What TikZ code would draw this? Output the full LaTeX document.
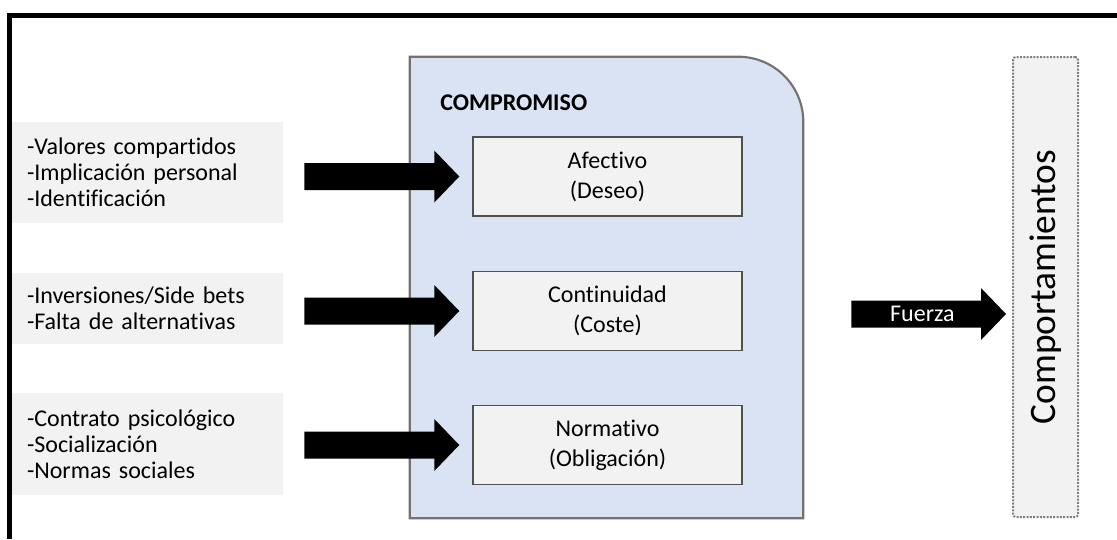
\documentclass[tikz,border=0pt]{standalone}
\usepackage{fontspec}
\setmainfont{Carlito}[Ligatures={NoCommon}]
\usetikzlibrary{calc}
\definecolor{boxgray}{HTML}{F2F2F2}
\definecolor{compblue}{HTML}{DAE3F3}
\definecolor{compline}{HTML}{767171}
\definecolor{innerline}{HTML}{505050}
\definecolor{dotline}{HTML}{7F7F7F}
\newcommand{\blockarr}[2]{\fill[black] ($(#1)+(0,-13.5)$) -- ($(#2)+(-25,-13.5)$) -- ($(#2)+(-25,-26)$) -- (#2) -- ($(#2)+(-25,26)$) -- ($(#2)+(-25,13.5)$) -- ($(#1)+(0,13.5)$) -- cycle;}
\begin{document}
\begin{tikzpicture}[x=0.75pt,y=-0.75pt,
  srcbox/.style={fill=boxgray, minimum width=203.25pt, text width=180.75pt, inner xsep=11.25pt, inner ysep=0pt, align=left, font=\fontsize{18}{19.5}\selectfont},
  dimbox/.style={draw=innerline, line width=1.1pt, fill=boxgray, minimum width=201.75pt, minimum height=59.25pt, align=center, font=\fontsize{18}{22.5}\selectfont, inner sep=0pt},
  frameline/.style={line width=3.75pt, line join=miter},
]
\useasboundingbox (0,0) rectangle (1117,539);
% outer frame
\draw[frameline] (9.5,539) -- (9.5,15.5) -- (1117,15.5);
% source boxes
\node[srcbox, minimum height=75.75pt] (src1) at (147.5,172.5) {-Valores compartidos\\-Implicación personal\\-Identificación};
\node[srcbox, minimum height=53.25pt] (src2) at (147.5,308.5) {-Inversiones/Side bets\\-Falta de alternativas};
\node[srcbox, minimum height=76.5pt] (src3) at (147.5,444) {-Contrato psicológico\\-Socialización\\-Normas sociales};
% container
\node[minimum width=294.75pt, minimum height=345.75pt, inner sep=0pt] (comp) at (606.5,287.5) {};
\draw[draw=compline, fill=compblue, line width=1.6pt]
  (comp.south west) -- (comp.north west) -- ($(comp.north east)+(-65,0)$)
  arc[start angle=90, end angle=0, radius=48.75pt] -- (comp.south east) -- cycle;
\node[anchor=west, font=\fontsize{18}{21}\selectfont\bfseries, inner sep=0pt] (ctitle) at (440,103) {COMPROMISO};
% dimension boxes
\node[dimbox] (aff) at (607.5,176.5) {Afectivo\\(Deseo)};
\node[dimbox] (con) at (607.5,311) {Continuidad\\(Coste)};
\node[dimbox] (nor) at (607.5,445) {Normativo\\(Obligación)};
% behaviour box
\node[draw=dotline, line width=1.5pt, dash pattern=on 1.5pt off 1pt, fill=boxgray, rounded corners=2pt, minimum width=48.75pt, minimum height=345pt, inner sep=0pt] (compt) at (1045.5,287) {\rotatebox{90}{\fontsize{28}{32}\selectfont Comportamientos}};
% arrows
\coordinate (a1s) at ($(src1.east |- aff.west)+(21,0)$);
\coordinate (a1e) at ($(aff.west)+(-13,0)$);
\coordinate (a2s) at ($(src2.east |- con.west)+(21,0)$);
\coordinate (a2e) at ($(con.west)+(-13,0)$);
\coordinate (a3s) at ($(src3.east |- nor.west)+(21,0)$);
\coordinate (a3e) at ($(nor.west)+(-13,0)$);
\coordinate (fzs) at ($(comp.east)+(48,26.5)$);
\coordinate (fze) at ($(compt.west |- fzs)+(-6,0)$);
\blockarr{a1s}{a1e}
\blockarr{a2s}{a2e}
\blockarr{a3s}{a3e}
\blockarr{fzs}{fze}
\node[text=white, font=\fontsize{18}{21}\selectfont, inner sep=0pt] (fzl) at ($(fzs)!0.46!(fze)$) {Fuerza};
\end{tikzpicture}
\end{document}
